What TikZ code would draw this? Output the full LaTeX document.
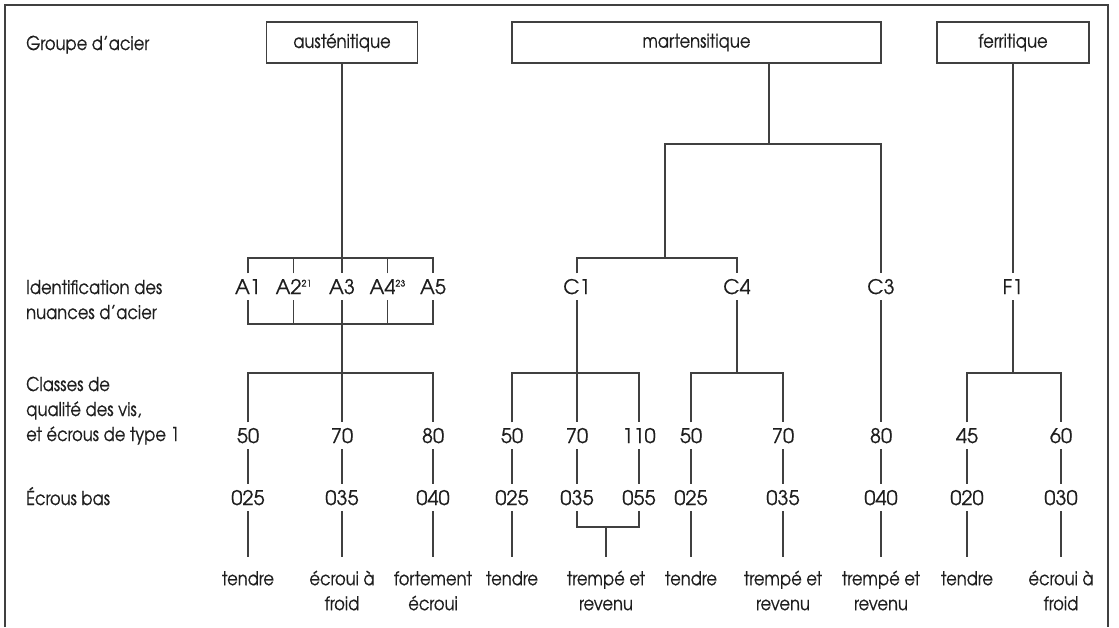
\documentclass[tikz,border=0pt]{standalone}
\usepackage{fontspec}
\setmainfont{TeX Gyre Adventor}[FakeStretch=0.86,FakeBold=0.5]
\newfontfamily\dig{TeX Gyre Adventor}[FakeBold=0.5]
\definecolor{lnc}{HTML}{404040}
\definecolor{txt}{HTML}{1E1E1E}
\newcommand{\one}[1]{\begin{tabular}[t]{@{}c@{}}#1\end{tabular}}
\newcommand{\two}[2]{\begin{tabular}[t]{@{}c@{}}#1\\#2\end{tabular}}
\newcommand{\sups}[1]{\raisebox{7.5pt}{\fontsize{9}{9}\selectfont #1}}
\begin{document}
\begin{tikzpicture}[x=1pt,y=-1pt,
  every node/.style={font=\fontsize{19}{25}\selectfont, text=txt},
  ln/.style={draw=lnc, line width=1.15pt},
  grp/.style={draw=lnc, line width=1.15pt, minimum height=41pt, inner sep=0pt},
  lbl/.style={anchor=base west, inner sep=0pt},
  cell/.style={anchor=base, font=\fontsize{20}{25}\dig, text height=14.5pt, text depth=0pt, inner xsep=1pt, inner ysep=6pt},
  desc/.style={anchor=north, inner xsep=0pt, inner ysep=10.5pt}]
\useasboundingbox (0,0) rectangle (1119,627);
% frame
\draw[ln] (5,627) -- (5,5) -- (1108,5) -- (1108,627);
% left labels
\node[lbl] (g) at (26,50) {Groupe d’acier};
\node[lbl] (ident) at (26,294) {\begin{tabular}[t]{@{}l@{}}Identification des\\nuances d’acier\end{tabular}};
\node[lbl] (cls) at (26,391) {\begin{tabular}[t]{@{}l@{}}Classes de\\qualité des vis,\\et écrous de type 1\end{tabular}};
\node[lbl] (eb) at (26,505) {Écrous bas};
% group boxes
\node[grp, minimum width=151pt] (aus) at (342,42.5) {austénitique};
\node[grp, minimum width=369pt] (mart) at (696.5,42.5) {martensitique};
\node[grp, minimum width=152pt] (fer) at (1013,42.5) {ferritique};
% steel grades
\node[cell] (A1) at (248,294) {A1};
\node[cell] (A2) at (293.6,294) {A2\sups{21}};
\node[cell] (A3) at (342,294) {A3};
\node[cell] (A4) at (387.5,294) {A4\sups{23}};
\node[cell] (A5) at (433,294) {A5};
\node[cell] (C1) at (577,294) {C1};
\node[cell] (C4) at (737,294) {C4};
\node[cell] (C3) at (881,294) {C3};
\node[cell] (F1) at (1013,294) {F1};
% property classes
\node[cell] (n1) at (248,443) {50};
\node[cell] (n2) at (342,443) {70};
\node[cell] (n3) at (433,443) {80};
\node[cell] (n4) at (512,443) {50};
\node[cell] (n5) at (577,443) {70};
\node[cell] (n6) at (639,443) {110};
\node[cell] (n7) at (691,443) {50};
\node[cell] (n8) at (783,443) {70};
\node[cell] (n9) at (881,443) {80};
\node[cell] (n10) at (967,443) {45};
\node[cell] (n11) at (1061,443) {60};
% thin nuts
\node[cell] (e1) at (248,505) {025};
\node[cell] (e2) at (342,505) {035};
\node[cell] (e3) at (433,505) {040};
\node[cell] (e4) at (512,505) {025};
\node[cell] (e5) at (577,505) {035};
\node[cell] (e6) at (639,505) {055};
\node[cell] (e7) at (691,505) {025};
\node[cell] (e8) at (783,505) {035};
\node[cell] (e9) at (881,505) {040};
\node[cell] (e10) at (967,505) {020};
\node[cell] (e11) at (1061,505) {030};
% conditions
\node[desc] (d1) at (248,557) {\one{tendre}};
\node[desc] (d2) at (342,557) {\two{écroui à}{froid}};
\node[desc] (d3) at (433,557) {\two{fortement}{écroui}};
\node[desc] (d4) at (512,557) {\one{tendre}};
\node[desc] (d5) at (606,557) {\two{trempé et}{revenu}};
\node[desc] (d7) at (691,557) {\one{tendre}};
\node[desc] (d8) at (783,557) {\two{trempé et}{revenu}};
\node[desc] (d9) at (881,557) {\two{trempé et}{revenu}};
\node[desc] (d10) at (967,557) {\one{tendre}};
\node[desc] (d11) at (1061,557) {\two{écroui à}{froid}};
% junctions
\coordinate (aT) at (342,258);
\coordinate (aB) at (342,324);
\coordinate (aC) at (342,373);
\coordinate (mS) at (769,144);
\coordinate (cT) at (665,258);
\coordinate (c1C) at (577,373);
\coordinate (c4C) at (737,373);
\coordinate (fC) at (1013,373);
\coordinate (cB) at (606,527);
% austenitic
\draw[ln] (aus.south) -- (A3.north);
\draw[ln] (A1.north) |- (aT) -| (A5.north);
\draw[ln] (A2.north) -- (A2.north |- aT);
\draw[ln] (A4.north) -- (A4.north |- aT);
\draw[ln] (A1.south) |- (aB) -| (A5.south);
\draw[ln] (A2.south) -- (A2.south |- aB);
\draw[ln] (A4.south) -- (A4.south |- aB);
\draw[ln] (A3.south) -- (n2.north);
\draw[ln] (n1.north) |- (aC) -| (n3.north);
% martensitic
\draw[ln] (mart.south -| mS) -- (mS);
\draw[ln] (cT) |- (mS) -| (C3.north);
\draw[ln] (C1.north) |- (cT) -| (C4.north);
\draw[ln] (C1.south) -- (n5.north);
\draw[ln] (n4.north) |- (c1C) -| (n6.north);
\draw[ln] (C4.south) -- (c4C);
\draw[ln] (n7.north) |- (c4C) -| (n8.north);
\draw[ln] (C3.south) -- (n9.north);
% ferritic
\draw[ln] (fer.south) -- (F1.north);
\draw[ln] (F1.south) -- (fC);
\draw[ln] (n10.north) |- (fC) -| (n11.north);
% classes to thin nuts
\foreach \i in {1,...,11} { \draw[ln] (n\i.south) -- (e\i.north); }
% thin nuts to conditions
\foreach \i in {1,2,3,4,7,8,9,10,11} { \draw[ln] (e\i.south) -- (d\i.north); }
\draw[ln] (e5.south) |- (cB) -| (e6.south);
\draw[ln] (cB) -- (d5.north);
\end{tikzpicture}
\end{document}
